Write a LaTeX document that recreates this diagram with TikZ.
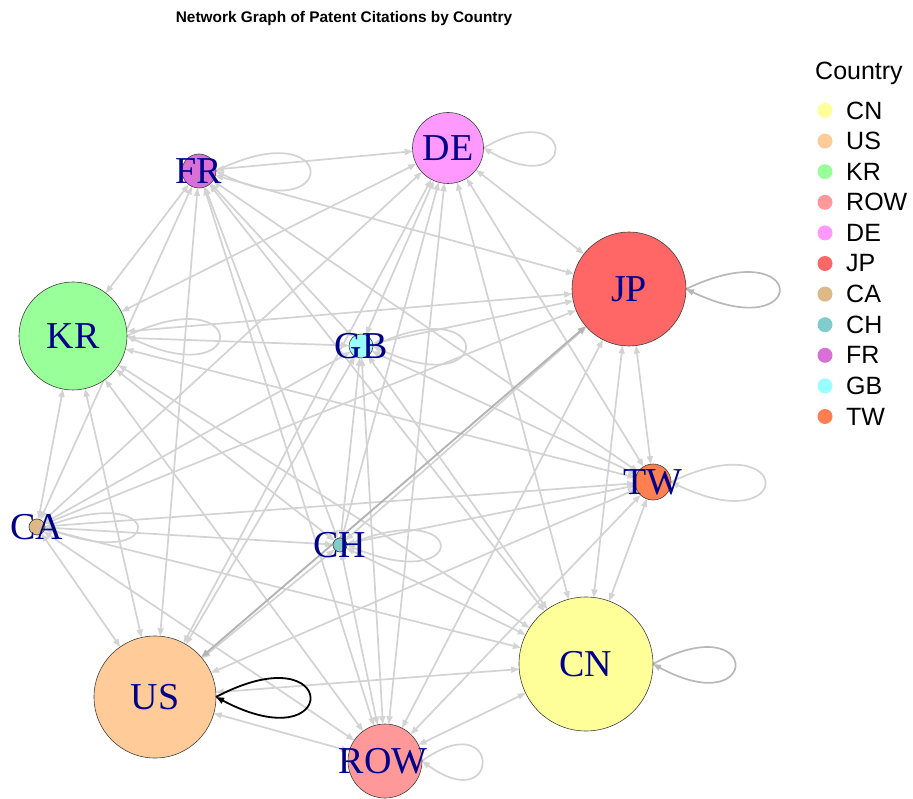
\documentclass[tikz,border=0pt]{standalone}
\usepackage{fontspec}
\setmainfont{Liberation Serif}
\setsansfont{Liberation Sans}
\usetikzlibrary{arrows.meta}
\pgfdeclarelayer{bg}
\pgfsetlayers{bg,main}
\definecolor{cCN}{HTML}{FFFF99}
\definecolor{cUS}{HTML}{FFCC99}
\definecolor{cKR}{HTML}{99FF99}
\definecolor{cROW}{HTML}{FF9999}
\definecolor{cDE}{HTML}{FF99FF}
\definecolor{cJP}{HTML}{FF6666}
\definecolor{cCA}{HTML}{DEB887}
\definecolor{cCH}{HTML}{80CCCC}
\definecolor{cFR}{HTML}{DA70D6}
\definecolor{cGB}{HTML}{99FFFF}
\definecolor{cTW}{HTML}{FF7F50}
\definecolor{labcol}{HTML}{00008B}
\definecolor{edgecol}{HTML}{D3D3D3}
\definecolor{loopcol}{HTML}{B8B8B8}
\definecolor{heavycol}{HTML}{B4B4B4}
\tikzset{
  vtx/.style={circle,draw=black!75,line width=0.6pt,inner sep=0pt,outer sep=0pt},
  lab/.style={text=labcol,font=\fontsize{38}{40}\selectfont,inner sep=0pt},
  tip/.tip={Triangle[length=8pt,width=6pt]},
  edgeline/.style={draw=edgecol,line width=1.7pt,tip-tip},
  loopline/.style={draw=edgecol,line width=1.7pt,-tip},
  darkloop/.style={draw=loopcol,line width=1.7pt,-tip},
  heavyline/.style={draw=heavycol,line width=1.9pt,tip-tip},
  legdot/.style={circle,inner sep=0pt,minimum size=15pt},
  legtxt/.style={anchor=west,font=\sffamily\fontsize{25}{27}\selectfont,inner sep=0pt}
}
\begin{document}
\begin{tikzpicture}[x=1pt,y=-1pt]
\useasboundingbox (0,0) rectangle (913,799);
\begin{pgfonlayer}{bg}
\fill[white] (0,0) rectangle (913,799);
\end{pgfonlayer}
% vertices
\node[vtx,fill=cDE,minimum size=71pt] (DE) at (448,148) {};
\node[vtx,fill=cFR,minimum size=34pt] (FR) at (199,171) {};
\node[vtx,fill=cKR,minimum size=108pt] (KR) at (73,336) {};
\node[vtx,fill=cCA,minimum size=16pt] (CA) at (37,527) {};
\node[vtx,fill=cGB,minimum size=24pt] (GB) at (361,346) {};
\node[vtx,fill=cCH,minimum size=14pt] (CH) at (340,545) {};
\node[vtx,fill=cJP,minimum size=114pt] (JP) at (629,289) {};
\node[vtx,fill=cTW,minimum size=36pt] (TW) at (653,482) {};
\node[vtx,fill=cUS,minimum size=122pt] (US) at (155,697) {};
\node[vtx,fill=cROW,minimum size=74pt] (ROW) at (385,761) {};
\node[vtx,fill=cCN,minimum size=134pt] (CN) at (586,664) {};
% labels
\node[lab] (lDE) at (DE) {DE};
\node[lab] (lFR) at (FR) {FR};
\node[lab] (lKR) at (KR) {KR};
\node[lab] (lCA) at (CA) {CA};
\node[lab] (lGB) at (GB) {GB};
\node[lab] (lCH) at (CH) {CH};
\node[lab] (lJP) at (JP) {JP};
\node[lab] (lTW) at (TW) {TW};
\node[lab] (lUS) at (US) {US};
\node[lab] (lROW) at (383,761) {ROW};
\node[lab] (lCN) at (CN) {CN};
% edges
\begin{pgfonlayer}{bg}
\foreach \a/\b in {DE/FR,DE/KR,DE/CA,DE/GB,DE/CH,DE/JP,DE/TW,DE/US,DE/ROW,DE/CN,
  FR/KR,FR/CA,FR/GB,FR/CH,FR/JP,FR/TW,FR/US,FR/ROW,FR/CN,
  KR/CA,KR/GB,KR/CH,KR/JP,KR/TW,KR/US,KR/ROW,KR/CN,
  CA/GB,CA/CH,CA/JP,CA/TW,CA/US,CA/ROW,CA/CN,
  GB/CH,GB/JP,GB/TW,GB/US,GB/ROW,GB/CN,
  CH/JP,CH/TW,CH/US,CH/ROW,CH/CN,
  JP/TW,JP/ROW,JP/CN,
  TW/US,TW/ROW,TW/CN,
  US/ROW,US/CN,ROW/CN}
  \draw[edgeline] (\a) -- (\b);
\draw[heavyline] (US) -- (JP);
% self loops
\draw[loopline] (DE.east) .. controls +(95,-55) and +(95,55) .. (DE.east);
\draw[loopline] (FR.east) .. controls +(125,-62) and +(125,62) .. (FR.east);
\draw[loopline] (KR.east) .. controls +(123,-59) and +(123,59) .. (KR.east);
\draw[loopline] (GB.east) .. controls +(123,-59) and +(123,59) .. (GB.east);
\draw[loopline] (CH.east) .. controls +(124,-52) and +(124,52) .. (CH.east);
\draw[loopline] (CA.east) .. controls +(123,-48) and +(123,48) .. (CA.east);
\draw[darkloop] (JP.east) .. controls +(124,-59) and +(124,59) .. (JP.east);
\draw[loopline] (TW.east) .. controls +(125,-60) and +(125,60) .. (TW.east);
\draw[darkloop] (CN.east) .. controls +(109,-59) and +(109,59) .. (CN.east);
\draw[loopline] (ROW.east) .. controls +(80,-58) and +(80,58) .. (ROW.east);
\end{pgfonlayer}
\draw[draw=black,line width=1.8pt,-tip] (US.east) .. controls +(125,-66) and +(125,66) .. (US.east);
% title
\node[font=\sffamily\bfseries\fontsize{15.4}{17}\selectfont] (title) at (344,19) {Network Graph of Patent Citations by Country};
% legend
\node[legtxt] (lgt) at (815,73) {Country};
\foreach \n [count=\i from 0] in {CN,US,KR,ROW,DE,JP,CA,CH,FR,GB,TW} {
  \node[legdot,fill=c\n] (ld\n) at (825,110.5+30.6*\i) {};
  \node[legtxt] (lt\n) at (846,110.5+30.6*\i) {\n};
}
\end{tikzpicture}
\end{document}
